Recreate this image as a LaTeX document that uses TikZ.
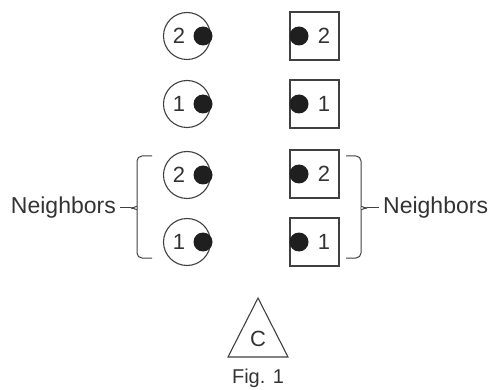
\documentclass[tikz,border=0pt]{standalone}
\usepackage{fontspec}
\setmainfont{Liberation Sans}
\begin{document}
\begin{tikzpicture}[x=1pt,y=-1pt,
  ln/.style={draw=black!75,line width=1.1pt},
  ring/.style={ln,circle,minimum size=47pt,inner sep=0pt},
  box/.style={ln,rectangle,minimum width=49pt,minimum height=48pt,inner sep=0pt},
  dot/.style={circle,fill=black!88,minimum size=19pt,inner sep=0pt},
  num/.style={font=\fontsize{22}{22}\selectfont,text=black!80,inner sep=0pt},
  lbl/.style={font=\fontsize{23}{23}\selectfont,text=black!80,inner sep=0pt},
  brace/.style={draw=black!75,line width=1pt,rounded corners=5pt}]
\useasboundingbox (0,0) rectangle (495,390);
% circles
\foreach \i/\y/\n in {a/36/2,b/104/1,c/175/2,d/242/1}{
  \node[ring] (c\i) at (187,\y) {};
  \node[dot] (cd\i) at (203,\y) {};
  \node[num] (cn\i) at (179,\y) {\n};
}
% squares
\foreach \i/\y/\n in {a/36/2,b/104/1,c/174/2,d/242/1}{
  \node[box] (s\i) at (314.5,\y) {};
  \node[dot] (sd\i) at (299,\y) {};
  \node[num] (sn\i) at (324,\y) {\n};
}
% left brace
\coordinate (lt) at (131,208);
\draw[brace] (152,156) -- (137,156) -- (137,202) to[out=-90,in=0] (lt);
\draw[brace] (lt) to[out=0,in=90] (137,214) -- (137,258) -- (152,258);
\node[lbl,anchor=east] (nl) at (116,208) {Neighbors};
\draw[brace] ([xshift=4pt]nl.east) -- (lt);
% right brace
\coordinate (rt) at (367,208);
\draw[brace] (346,156) -- (361,156) -- (361,202) to[out=-90,in=180] (rt);
\draw[brace] (rt) to[out=180,in=90] (361,214) -- (361,258) -- (346,258);
\node[lbl,anchor=west] (nr) at (383,208) {Neighbors};
\draw[brace] (rt) -- ([xshift=-4pt]nr.west);
% triangle
\coordinate (t1) at (258,298);
\coordinate (t2) at (228,357);
\coordinate (t3) at (288,357);
\draw[ln,line join=miter] (t1) -- (t2) -- (t3) -- cycle;
\node[num] (tc) at (258,339) {C};
\node[lbl,font=\fontsize{20}{20}\selectfont] (fig) at (258,378) {Fig. 1};
\end{tikzpicture}
\end{document}
